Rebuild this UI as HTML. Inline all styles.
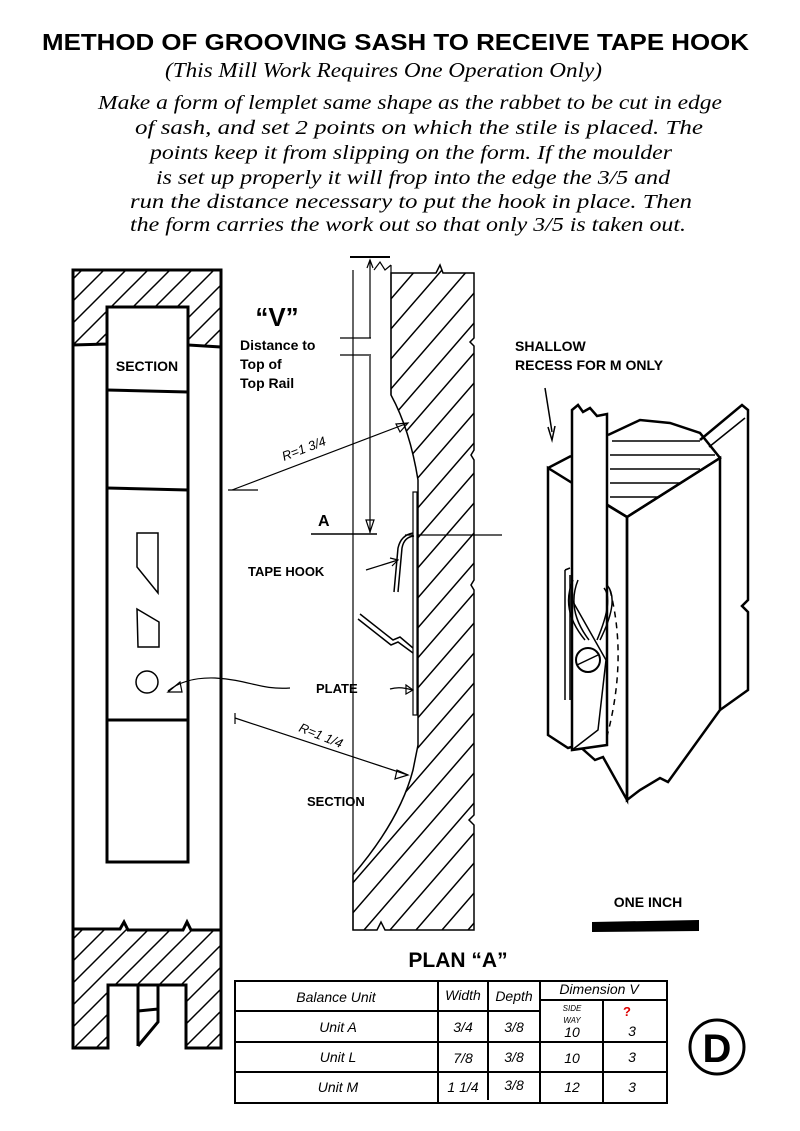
<!DOCTYPE html>
<html><head><meta charset="utf-8"><style>
body{margin:0;background:#fff;}
svg{display:block}
.h{font-family:"Liberation Sans",sans-serif;font-weight:bold;fill:#000}
.s{font-family:"Liberation Serif",serif;font-style:italic;fill:#000}
.t{font-family:"Liberation Sans",sans-serif;font-style:italic;fill:#000}
</style></head><body>
<svg width="800" height="1131" viewBox="0 0 800 1131" xmlns="http://www.w3.org/2000/svg">
<defs>
<pattern id="hat" patternUnits="userSpaceOnUse" width="22" height="22">
<path d="M-2,2 L2,-2 M0,22 L22,0 M20,24 L24,20" stroke="#000" stroke-width="1.5"/>
</pattern>
<pattern id="hat2" patternUnits="userSpaceOnUse" width="26" height="30">
<path d="M0,30 L26,0 M-2,2 L1,-1 M24,32 L27,29" stroke="#000" stroke-width="1.5"/>
</pattern>
</defs>
<rect width="800" height="1131" fill="#fff"/>
<text x="42" y="50" class="h" font-size="23" textLength="707" lengthAdjust="spacingAndGlyphs">METHOD OF GROOVING SASH TO RECEIVE TAPE HOOK</text>
<text x="165" y="77" class="s" font-size="21" textLength="437" lengthAdjust="spacingAndGlyphs">(This Mill Work Requires One Operation Only)</text>
<g class="s" font-size="19.5">
<text x="98" y="109" textLength="624" lengthAdjust="spacingAndGlyphs">Make a form of lemplet same shape as the rabbet to be cut in edge</text>
<text x="135" y="134" textLength="568" lengthAdjust="spacingAndGlyphs">of sash, and set 2 points on which the stile is placed. The</text>
<text x="150" y="159" textLength="522" lengthAdjust="spacingAndGlyphs">points keep it from slipping on the form. If the moulder</text>
<text x="156" y="184" textLength="514" lengthAdjust="spacingAndGlyphs">is set up properly it will frop into the edge the 3/5 and</text>
<text x="130" y="208" textLength="562" lengthAdjust="spacingAndGlyphs">run the distance necessary to put the hook in place. Then</text>
<text x="130" y="231" textLength="556" lengthAdjust="spacingAndGlyphs">the form carries the work out so that only 3/5 is taken out.</text>
</g>

<!-- LEFT COLUMN -->
<g stroke="#000" fill="none">
<path d="M73,270 H221 V347 L188,345 V307 H107 V344 L73,345 Z" fill="url(#hat)" stroke-width="3"/>
<path d="M73,929 L120,929 L124,922 L128,930 L183,930 L187,922 L191,930 L221,930 V1048 H186 V985 H108 V1048 H73 Z" fill="url(#hat)" stroke-width="3"/>
<line x1="73" y1="270" x2="73" y2="1048" stroke-width="3"/>
<line x1="221" y1="270" x2="221" y2="1048" stroke-width="3"/>
<rect x="107" y="307" width="81" height="555" stroke-width="3"/>
<line x1="107" y1="390" x2="188" y2="392" stroke-width="3"/>
<line x1="107" y1="488" x2="188" y2="490" stroke-width="3"/>
<line x1="107" y1="720" x2="188" y2="720" stroke-width="3"/>
<path d="M137,533 H158 V593 L137,567 Z" stroke-width="1.5"/>
<path d="M137,609 L159,622 V647 H138 Z" stroke-width="1.5"/>
<circle cx="147" cy="682" r="11" stroke-width="1.5"/>
<line x1="138" y1="985" x2="138" y2="1046" stroke-width="3"/>
<path d="M138,1011 L158,1009 V1022 L138,1046" stroke-width="3"/>
<line x1="158" y1="985" x2="158" y2="1010" stroke-width="3"/>
</g>
<text x="147" y="371" class="h" font-size="14" text-anchor="middle">SECTION</text>

<!-- MIDDLE SECTION -->
<g stroke="#000" fill="none">
<path d="M391,273 L436,273 L440,265 L443,273 L474,273 L474,338 L470,342 L474,346 L474,450 L471,455 L474,460 L474,580 L471,585 L474,590 L474,815 L469,820 L474,825 L474,930 L385,930 L381,922 L377,930 L353,930 L353,875 Q400,820 413,770 L418,745 L418,480 Q410,430 391,395 Z" fill="url(#hat2)" stroke-width="1.5"/>
<line x1="353" y1="270" x2="353" y2="930" stroke-width="1.2"/>
<line x1="391" y1="265" x2="391" y2="395" stroke-width="1.2"/>
<path d="M374,270 L380,262 L385,270 L391,265" stroke-width="1.2"/>
<line x1="350" y1="257" x2="390" y2="257" stroke-width="2"/>
<line x1="370" y1="260" x2="370" y2="338" stroke-width="1.2"/>
<line x1="370" y1="356" x2="370" y2="533" stroke-width="1.2"/>
<line x1="340" y1="338" x2="371" y2="338" stroke-width="1.2"/>
<line x1="340" y1="355" x2="371" y2="355" stroke-width="1.2"/>
<line x1="311" y1="534" x2="377" y2="534" stroke-width="1.5"/>
<line x1="405" y1="535" x2="502" y2="535" stroke-width="1.2"/>
<path d="M366,520 L370,532 L374,520 Z" stroke-width="1.2"/>
<path d="M367,268 L370,260 L373,268" stroke-width="1.2"/>
<line x1="228" y1="490" x2="258" y2="490" stroke-width="1.2"/>
<line x1="232" y1="490" x2="408" y2="423" stroke-width="1.2"/>
<path d="M396,424 L408,423 L400,432 Z" stroke-width="1.2"/>
<line x1="235" y1="713" x2="235" y2="724" stroke-width="1.2"/>
<line x1="235" y1="718" x2="408" y2="775" stroke-width="1.2"/>
<path d="M397,770 L408,775 L395,779 Z" stroke-width="1.2"/>
<rect x="413" y="492" width="4" height="223" stroke-width="1.2" fill="#fff"/>
<path d="M398,592 L402,548 Q404,537 414,536 M394,592 L398,548 Q401,535 413,533" stroke-width="1.5"/>
<path d="M366,570 L398,560" stroke-width="1.2"/>
<path d="M390,558 L398,560 L392,566" stroke-width="1.2"/>
<path d="M360,614 L393,640 L400,637 L413,648 M358,619 L391,645 L398,642 L413,653" stroke-width="1.5"/>
<path d="M168,691 Q185,677 215,678 C250,680 260,690 290,688" stroke-width="1.2"/>
<path d="M168,692 L180,682 L182,692 Z" stroke-width="1.2"/>
<path d="M390,689 Q400,686 412,690" stroke-width="1.2"/>
<path d="M406,685 L413,690 L406,694 Z" stroke-width="1.2"/>
</g>
<text x="277" y="326" class="h" font-size="26" text-anchor="middle">“V”</text>
<g class="h" font-size="14"><text x="240" y="350">Distance to</text><text x="240" y="369">Top of</text><text x="240" y="388">Top Rail</text></g>
<text x="318" y="526" class="h" font-size="16">A</text>
<text x="248" y="576" class="h" font-size="13">TAPE HOOK</text>
<text x="316" y="693" class="h" font-size="13">PLATE</text>
<text x="307" y="806" class="h" font-size="13">SECTION</text>
<text x="0" y="0" class="t" font-size="13" transform="translate(284,461) rotate(-21)">R=1 3/4</text>
<text x="0" y="0" class="t" font-size="13" transform="translate(298,731) rotate(22)">R=1 1/4</text>

<!-- RIGHT ISO -->
<g stroke="#000" fill="none" stroke-width="2.5">
<path d="M548,468 L548,735 L568,748 L578,745 L595,760 L603,757 L627,800 L627,517 Z"/>
<path d="M627,517 L627,800 L640,790 L660,778 L668,782 L720,710 L720,458 Z"/>
<path d="M548,468 L571,456 M608,435 L640,420 L670,423 L700,433 L720,458 L627,517 L607,505"/>
<path d="M612,441 L700,441 M610,455 L715,455 M610,469 L700,469 M610,483 L680,483 M610,497 L660,497" stroke-width="1.5"/>
<path d="M572,410 L578,405 L583,412 L590,408 L597,416 L607,414 L607,745 L572,750 Z" fill="#fff"/>
<path d="M700,440 L742,405 L748,410 L748,600 L742,606 L748,612 L748,690 L720,710" />
<path d="M709,447 L745,418" stroke-width="1.5"/>
<path d="M565,570 L565,700 M565,570 L570,568 M570,575 L570,700" stroke-width="1.5"/>
<path d="M572,600 L606,660 L598,730 L572,750" stroke-width="1.5"/>
<path d="M573,580 Q560,610 585,640 M578,580 Q566,610 589,640 M607,585 Q620,600 600,640 M604,588 Q614,600 597,640" stroke-width="1.5"/>
<circle cx="588" cy="660" r="12" stroke-width="2"/>
<line x1="577" y1="665" x2="598" y2="655" stroke-width="1.5"/>
<path d="M610,590 Q628,660 606,740" stroke-width="1.5" stroke-dasharray="6,5"/>
<path d="M545,388 L552,432" stroke-width="1.5"/>
<path d="M548,427 L552,440 L555,426" stroke-width="1.5"/>
</g>
<g class="h" font-size="14"><text x="515" y="351">SHALLOW</text><text x="515" y="370">RECESS FOR M ONLY</text></g>

<text x="648" y="907" class="h" font-size="14" text-anchor="middle">ONE INCH</text>
<path d="M592,922 L699,920 L699,931 L592,932 Z" fill="#000"/>

<!-- TABLE -->
<text x="458" y="967" class="h" font-size="21" text-anchor="middle">PLAN “A”</text>
<g stroke="#000" fill="none" stroke-width="2">
<rect x="235" y="981" width="432" height="122"/>
<line x1="235" y1="1011" x2="540" y2="1011"/>
<line x1="540" y1="1000" x2="667" y2="1000"/>
<line x1="235" y1="1042" x2="667" y2="1042"/>
<line x1="235" y1="1072" x2="667" y2="1072"/>
<line x1="438" y1="981" x2="438" y2="1103"/>
<line x1="488" y1="981" x2="488" y2="1100"/>
<line x1="540" y1="981" x2="540" y2="1103"/>
<line x1="603" y1="1000" x2="603" y2="1103"/>
</g>
<g class="t" font-size="14" text-anchor="middle">
<text x="336" y="1002">Balance Unit</text>
<text x="463" y="1000">Width</text><text x="514" y="1001">Depth</text>
<text x="599" y="994">Dimension V</text>
<text x="338" y="1032">Unit A</text><text x="463" y="1032">3/4</text><text x="514" y="1032">3/8</text>
<text x="338" y="1062">Unit L</text><text x="463" y="1063">7/8</text><text x="514" y="1062">3/8</text>
<text x="338" y="1092">Unit M</text><text x="463" y="1092">1 1/4</text><text x="514" y="1090">3/8</text>
<text x="572" y="1037">10</text><text x="632" y="1036">3</text>
<text x="572" y="1063">10</text><text x="632" y="1062">3</text>
<text x="572" y="1092">12</text><text x="632" y="1092">3</text>
</g>
<g class="t" font-size="8" text-anchor="middle"><text x="572" y="1011">SIDE</text><text x="572" y="1023">WAY</text></g>
<text x="627" y="1016" font-family="Liberation Sans,sans-serif" font-weight="bold" font-size="13" fill="#d00" text-anchor="middle">?</text>
<circle cx="717" cy="1047" r="27" fill="none" stroke="#000" stroke-width="3"/>
<text x="717" y="1062" class="h" font-size="40" text-anchor="middle">D</text>
</svg>
</body></html>
